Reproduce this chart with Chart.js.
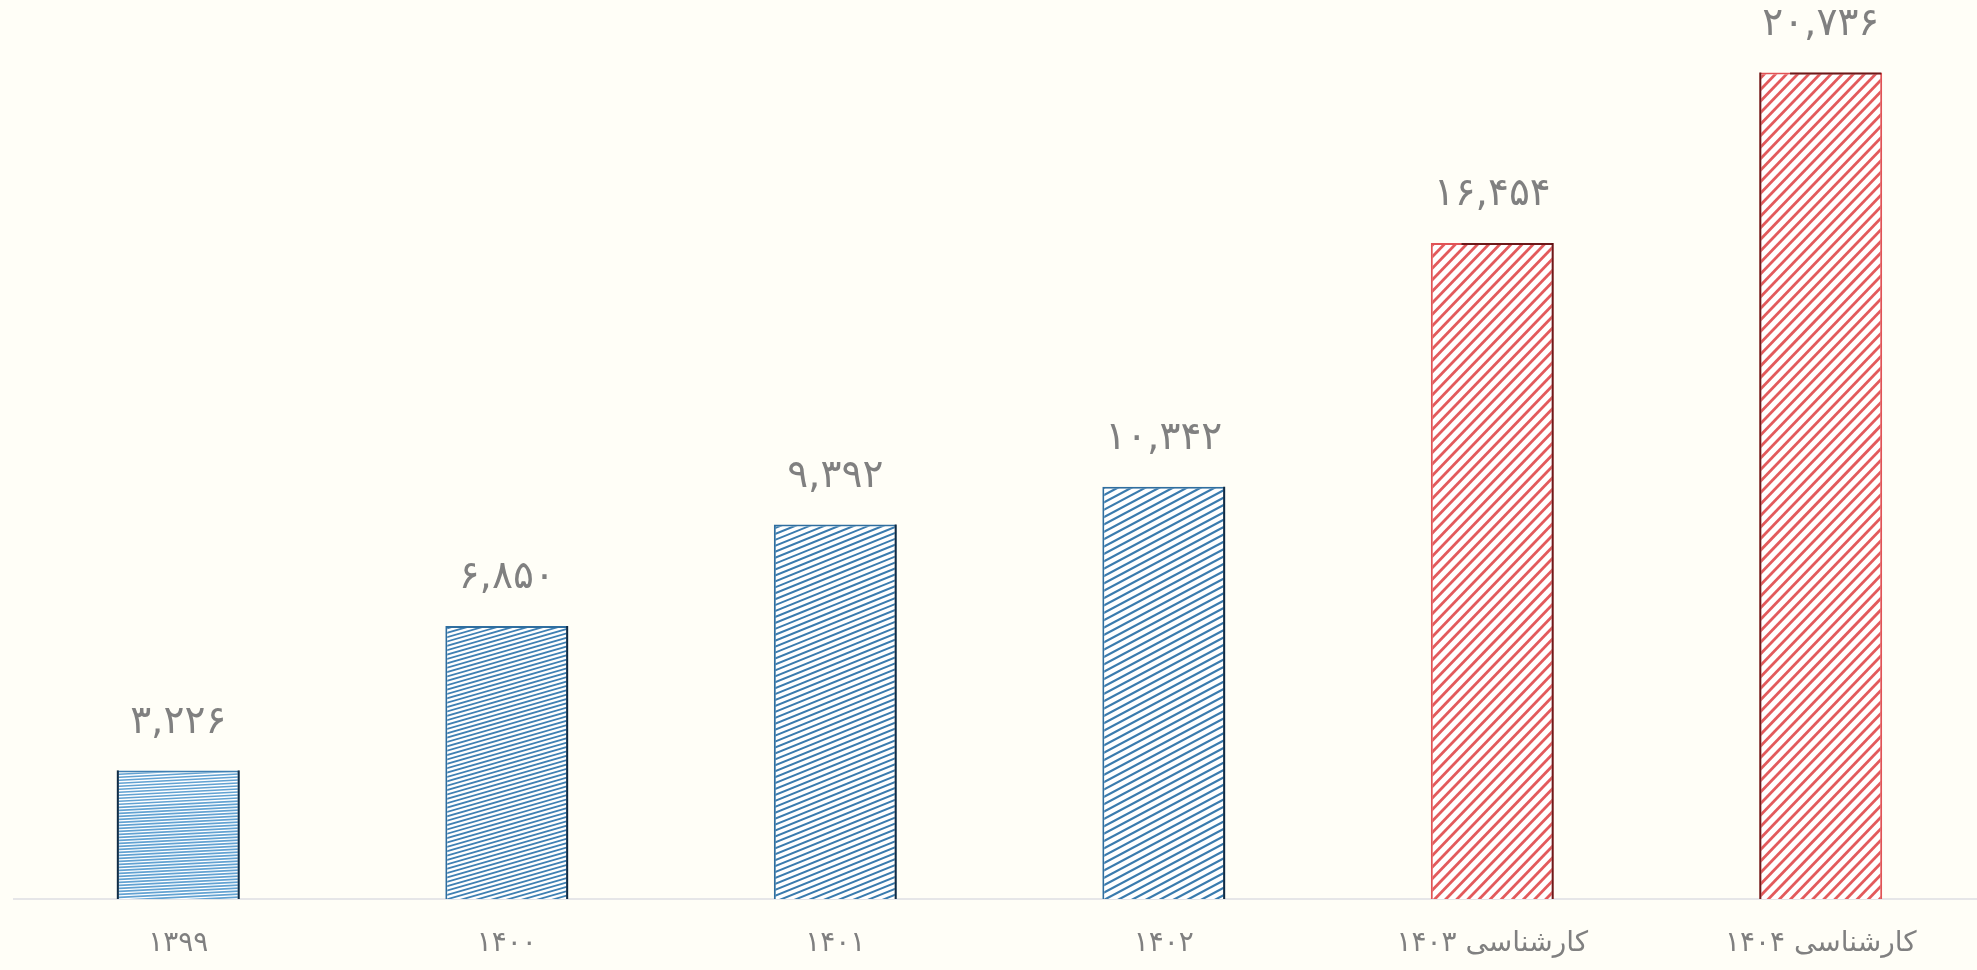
<!DOCTYPE html>
<html>
<head>
<meta charset="utf-8">
<script src="https://cdn.jsdelivr.net/npm/chart.js@4.4.1/dist/chart.umd.min.js"></script>
<style>
html,body{margin:0;padding:0;background:#fffef7;overflow:hidden;width:1977px;height:970px}
#chart{position:absolute;left:0;top:0}
</style>
</head>
<body>
<canvas id="chart" width="1990" height="970"></canvas>
<script>
// data
const categories=['۱۳۹۹','۱۴۰۰','۱۴۰۱','۱۴۰۲','کارشناسی ۱۴۰۳','کارشناسی ۱۴۰۴']
const values=[3226,6850,9392,10342,16454,20736]
const valueLabels=['۳,۲۲۶','۶,۸۵۰','۹,۳۹۲','۱۰,۳۴۲','۱۶,۴۵۴','۲۰,۷۳۶']

const canvas=document.getElementById('chart')
const ctx=canvas.getContext('2d')

/* hatch fills */
function hatch(color,angle,gap,lw){
let c=document.createElement('canvas')
c.width=1990
c.height=970
let g=c.getContext('2d')
g.fillStyle='#ffffff'
g.fillRect(0,0,c.width,c.height)
g.strokeStyle=color
g.lineWidth=lw
g.translate(c.width/2,c.height/2)
g.rotate(-angle*Math.PI/180)
for(let y=-1500;y<1500;y+=gap){
g.beginPath()
g.moveTo(-1500,y)
g.lineTo(1500,y)
g.stroke()
}
return ctx.createPattern(c,'no-repeat')
}

const fills=[
hatch('#62a2d2',3,3,1.7),
hatch('#3f80b3',16,4.2,1.8),
hatch('#3a7bae',22,5.5,2),
hatch('#3a7bae',28,6.5,2.2),
hatch('#e35a5c',46,8,2.8),
hatch('#e35a5c',46,8,2.8)
]
const borders=['#3f7fb2','#2f6e9f','#2f6e9f','#2f6e9f','#e05356','#e05356']

/* value labels + dark edges */
function edge(c,x1,y1,x2,y2){
c.beginPath()
c.moveTo(x1,y1)
c.lineTo(x2,y2)
c.stroke()
}

const topLabels={
id:'topLabels',
afterDatasetsDraw(chart){
const c=chart.ctx
chart.getDatasetMeta(0).data.forEach((bar,i)=>{
let l=bar.x-bar.width/2+1, r=bar.x+bar.width/2-1
c.save()
c.strokeStyle=i<4?'rgba(10,30,50,0.85)':'rgba(80,10,10,0.8)'
c.lineWidth=2
if(i==5) edge(c,l,bar.y,l,bar.base)
else edge(c,r,bar.y,r,bar.base)
if(i==0) edge(c,l,bar.y,l,bar.base)
if(i>=4) edge(c,bar.x-bar.width/4,bar.y+1,r,bar.y+1)
c.fillStyle='#808080'
c.font='39px "DejaVu Sans"'
c.textAlign='center'
c.textBaseline='middle'
c.fillText(valueLabels[i],bar.x,bar.y-48)
c.restore()
})
}
}

new Chart(ctx,{
type:'bar',
data:{
labels:categories,
datasets:[{
data:values,
backgroundColor:fills,
borderColor:borders,
borderWidth:2,
barPercentage:0.374,
categoryPercentage:1
}]
},
options:{
responsive:false,
animation:false,
devicePixelRatio:1,
layout:{padding:{left:14,right:5,top:22,bottom:0}},
plugins:{legend:{display:false},tooltip:{enabled:false}},
scales:{
x:{
grid:{display:false,drawTicks:false},
border:{display:true,color:'#e6e6e8',width:2},
ticks:{color:'#808080',font:{family:'DejaVu Sans',size:28},padding:28,maxRotation:0},
afterFit(s){s.height=71}
},
y:{
display:false,
min:0,
max:22000
}
}
},
plugins:[topLabels]
})
</script>
</body>
</html>
